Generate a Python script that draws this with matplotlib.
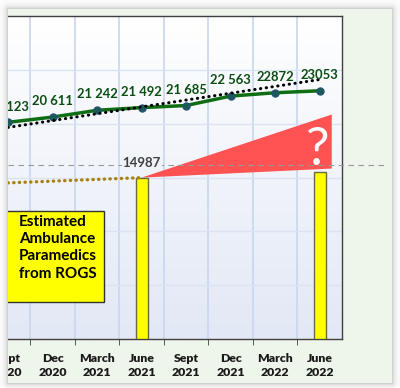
import numpy as np
import matplotlib
matplotlib.use('Agg')
import matplotlib.pyplot as plt
from matplotlib.patches import Rectangle, Polygon
from matplotlib.colors import LinearSegmentedColormap
from matplotlib.transforms import offset_copy

plt.rcParams['font.family'] = ['Lato', 'DejaVu Sans']

# data
quarters = ['Sept\n2020', 'Dec\n2020', 'March\n2021', 'June\n2021',
            'Sept\n2021', 'Dec\n2021', 'March\n2022', 'June\n2022']
paramedics = [20123, 20611, 21242, 21492, 21685, 22563, 22872, 23053]
paramedic_labels = ['20 123', '20 611', '21 242', '21 492', '21 685',
                    '22 563', '22872', '23053']
trend_x = [0, 7]
trend_vals = [19650, 24100]
rogs_x = [3, 7]
rogs_vals = [14987, 15550]
rogs_trail_x = [0, 3]
rogs_trail = [14500, 14987]
forecast_x = 7.27
forecast_low = 15830
forecast_high = 20850
ref_level = 16200

W, H = 400, 388
fig = plt.figure(figsize=(W / 100, H / 100), dpi=100)

# screenshot frame: green panel with soft grey shadow round it
yy, xx = np.mgrid[0:H, 0:W]
px0, px1, py0, py1 = 8, 392, 9, 383
dx = np.maximum(np.maximum(px0 - xx, xx - (px1 - 1)), 0)
dy = np.maximum(np.maximum(py0 - yy, yy - (py1 - 1)), 0)
d = np.hypot(dx, dy)
shade = 1 - 0.25 * np.exp(-d / 3.0)
img = np.dstack([shade] * 3)
img[d == 0] = np.array([238, 245, 234]) / 255

bg = fig.add_axes([0, 0, 1, 1], zorder=-5)
bg.imshow(img, aspect='auto', interpolation='nearest')
bg.axis('off')

ax = fig.add_axes([8 / W, (H - 339) / H, 334 / W, 323 / H])
grad = LinearSegmentedColormap.from_list('plotbg', ['#ffffff', '#e2e8f5'])
ax.imshow(np.linspace(0, 1, 256).reshape(-1, 1), cmap=grad, aspect='auto',
          extent=[0, 1, 0, 1], transform=ax.transAxes, zorder=0)
ax.set_xlim(0.12, 7.5)
ax.set_ylim(0, 30000)

for b in np.arange(0.5, 7.0, 1.0):
    ax.axvline(b, color='#c9d6ee', lw=1.2, zorder=1)
for g in range(5000, 30000, 5000):
    ax.axhline(g, color='#dbe2f1', lw=1, zorder=1)

# forecast wedge
ax.add_patch(Polygon([(rogs_x[0], rogs_vals[0]), (forecast_x, forecast_high),
                      (forecast_x, forecast_low)], closed=True,
                     fc='#ff5252', ec='none', zorder=3))

ax.bar(rogs_x, rogs_vals, width=0.265, color='#ffff00', edgecolor='#6b6b3a',
       lw=1, zorder=4)

ax.plot(rogs_trail_x, rogs_trail, color='#a8820e', lw=2.4,
        ls=(0, (0.1, 1.6)), dash_capstyle='round', zorder=4)

ax.plot(range(len(paramedics)), paramedics, color='#0f6e14', lw=2.5,
        marker='o', ms=5.2, mfc='#1b5a55', mec='#24507a', mew=0.8, zorder=5)
ax.plot(trend_x, trend_vals, color='black', lw=2.2, ls=(0, (0.1, 1.8)),
        dash_capstyle='round', zorder=6)

ax.axhline(ref_level, xmin=0, xmax=(388 - 8) / 334, color='#999999', lw=0.8,
           ls=(0, (5, 4)), clip_on=False, zorder=7)

up = offset_copy(ax.transData, fig=fig, y=8.5, units='points')
for i, (v, t) in enumerate(zip(paramedics, paramedic_labels)):
    ax.text(i, v, t, transform=up, ha='center', va='baseline', fontsize=9.4,
            fontweight='bold', color='#0b4d12', clip_on=True, zorder=8)

up2 = offset_copy(ax.transData, fig=fig, y=7.5, units='points')
ax.text(rogs_x[0], rogs_vals[0], str(rogs_vals[0]), transform=up2,
        ha='center', va='baseline', fontsize=9.5, fontweight='bold',
        color='#404040', zorder=8,
        bbox=dict(fc='#f0f3f9', ec='none', pad=0.6))

ax.text(6.95, ref_level, '?', ha='center', va='baseline', fontsize=38,
        color='white', zorder=8)

ax.add_patch(Rectangle((-0.5, 3440), 2.65, 11920 - 3440, fc='#ffff00',
                       ec='#333333', lw=1, zorder=8))
ax.text(0.25, 11550, 'Estimated\nAmbulance\nParamedics\nfrom ROGS',
        ha='left', va='top', fontsize=11, fontweight='bold', color='black',
        linespacing=1.3, zorder=9)

for side in ['top', 'right', 'bottom']:
    ax.spines[side].set_color('#404040')
    ax.spines[side].set_linewidth(1)
ax.spines['left'].set_visible(False)

ax.set_xticks(range(len(quarters)))
ax.set_xticklabels(quarters, fontsize=8.8, fontweight='heavy',
                   color='#1a1a1a', linespacing=1.3)
ax.set_xticks(np.arange(0.5, 7.0, 1.0), minor=True)
ax.tick_params(axis='x', which='major', length=0, pad=10)
ax.tick_params(axis='x', which='minor', length=4, color='#404040',
               direction='out')
ax.set_yticks([])

# cover the part of the chart that falls outside the crop on the left
mask = fig.add_axes([0, 0, 8 / W, 1], zorder=10)
mask.imshow(img[:, :8], aspect='auto', interpolation='nearest')
mask.axis('off')

fig.savefig('out.png', dpi=100)
